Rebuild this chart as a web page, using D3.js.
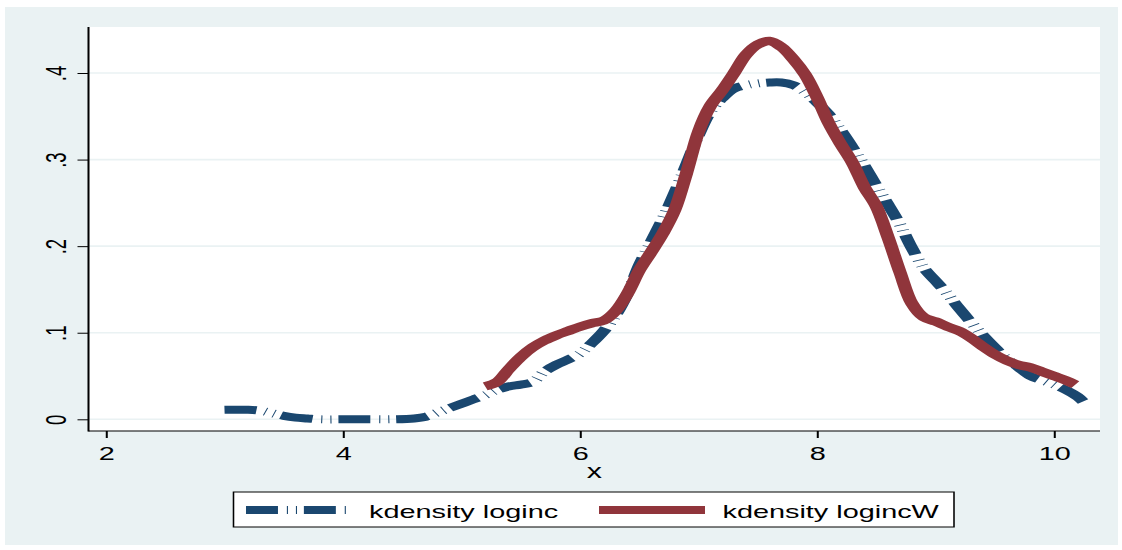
<!DOCTYPE html>
<html>
<head>
<meta charset="utf-8">
<script src="https://cdn.jsdelivr.net/npm/d3@7"></script>
<style>
  html, body { margin: 0; padding: 0; background: #ffffff; }
  svg { display: block; }
  text { font-family: "Liberation Sans", Arial, Helvetica, sans-serif; fill: #000; }
</style>
</head>
<body>
<svg id="chart" width="1122" height="550"></svg>
<script>
// Kernel density estimates of log income (unweighted vs. weighted)
const seriesNames = ["kdensity loginc", "kdensity logincW"];

const logincX = [3.0, 3.2, 3.3, 3.4, 3.5, 3.6, 3.7, 3.8, 4.0, 4.2, 4.4, 4.6, 4.7, 4.8, 4.9, 5.0,
  5.1, 5.2, 5.3, 5.4, 5.5, 5.6, 5.7, 5.8, 5.9, 6.0, 6.1, 6.2, 6.3, 6.4, 6.5, 6.6, 6.7, 6.8, 6.9,
  7.0, 7.1, 7.2, 7.3, 7.4, 7.5, 7.6, 7.7, 7.8, 7.9, 8.0, 8.1, 8.2, 8.3, 8.4, 8.5, 8.6, 8.7, 8.8,
  8.9, 9.0, 9.1, 9.2, 9.3, 9.4, 9.5, 9.6, 9.7, 9.8, 9.9, 10.0, 10.1, 10.2, 10.25];
const logincY = [0.011, 0.011, 0.010, 0.007, 0.004, 0.002, 0.001, 0.0, 0.0, 0.0, 0.0, 0.001, 0.003,
  0.008, 0.013, 0.018, 0.023, 0.028, 0.034, 0.038, 0.040, 0.043, 0.055, 0.063, 0.069, 0.076,
  0.088, 0.102, 0.120, 0.145, 0.178, 0.205, 0.232, 0.262, 0.295, 0.328, 0.355, 0.371, 0.382,
  0.386, 0.388, 0.389, 0.389, 0.386, 0.378, 0.366, 0.352, 0.334, 0.314, 0.293, 0.270, 0.248,
  0.225, 0.198, 0.175, 0.160, 0.145, 0.128, 0.112, 0.097, 0.083, 0.070, 0.060, 0.050, 0.045,
  0.040, 0.034, 0.026, 0.020];

const logincWX = [5.2, 5.3, 5.4, 5.5, 5.6, 5.7, 5.8, 5.9, 6.0, 6.1, 6.2, 6.3, 6.4, 6.5, 6.6, 6.7,
  6.8, 6.9, 7.0, 7.1, 7.2, 7.3, 7.4, 7.5, 7.6, 7.7, 7.8, 7.9, 8.0, 8.1, 8.2, 8.3, 8.4, 8.5, 8.6,
  8.7, 8.8, 8.9, 9.0, 9.1, 9.2, 9.3, 9.4, 9.5, 9.6, 9.7, 9.8, 9.9, 10.0, 10.1, 10.18];
const logincWY = [0.038, 0.043, 0.058, 0.072, 0.083, 0.091, 0.097, 0.102, 0.107, 0.111, 0.114,
  0.125, 0.145, 0.172, 0.193, 0.215, 0.242, 0.285, 0.332, 0.362, 0.380, 0.400, 0.421, 0.433,
  0.437, 0.430, 0.416, 0.398, 0.372, 0.342, 0.318, 0.296, 0.268, 0.246, 0.210, 0.170, 0.134,
  0.118, 0.113, 0.107, 0.102, 0.094, 0.084, 0.075, 0.068, 0.063, 0.060, 0.055, 0.050, 0.045, 0.040];

const xTicks = [2, 4, 6, 8, 10];
const xTickLabels = ["2", "4", "6", "8", "10"];
const yTicks = [0, 0.1, 0.2, 0.3, 0.4];
const yTickLabels = ["0", ".1", ".2", ".3", ".4"];
const xTitle = "x";

// The graph is laid out in a narrower frame and stretched horizontally.
const SX = 1.56;
const W = 1122 / SX, H = 550;

const BG = "#eaf2f3";
const NAVY = "#1a476f";
const MAROON = "#90353b";

const plot = { left: 88.5 / SX, right: 1100 / SX, top: 27, bottom: 431 };

const svg = d3.select("#chart");
const root = svg.append("g").attr("transform", `scale(${SX},1)`);

// outer graph region
root.append("rect").attr("x", 5 / SX).attr("y", 7)
  .attr("width", (1118 - 5) / SX).attr("height", 545 - 7).attr("fill", BG);

// plot region
root.append("rect").attr("x", plot.left).attr("y", plot.top)
  .attr("width", plot.right - plot.left).attr("height", plot.bottom - plot.top)
  .attr("fill", "#ffffff");

const x = d3.scaleLinear().domain([2, 10]).range([106 / SX, 1054 / SX]);
const y = d3.scaleLinear().domain([0, 0.4]).range([419.3, 73]);

// grid lines
root.append("g").selectAll("line").data(yTicks).join("line")
  .attr("x1", plot.left).attr("x2", plot.right)
  .attr("y1", d => y(d)).attr("y2", d => y(d))
  .attr("stroke", BG).attr("stroke-width", 1.6);

// y axis
const yAxis = d3.axisLeft(y).tickValues(yTicks).tickSize(11 / SX).tickPadding(0)
  .tickFormat((d, i) => yTickLabels[i]);
const gy = root.append("g").attr("transform", `translate(${plot.left},0)`).call(yAxis);
gy.select(".domain").remove();
gy.selectAll(".tick line").attr("stroke", "#000").attr("stroke-width", 1);
gy.selectAll(".tick text").remove();
gy.selectAll(".tick").append("text")
  .attr("transform", `translate(${-(88.5 - 66) / SX},0) rotate(-90)`)
  .attr("text-anchor", "middle")
  .attr("font-size", 18.5)
  .text((d, i) => yTickLabels[i]);
root.append("line").attr("x1", plot.left).attr("x2", plot.left)
  .attr("y1", plot.top).attr("y2", plot.bottom + 0.5)
  .attr("stroke", "#000").attr("stroke-width", 1.3);

// x axis
const xAxis = d3.axisBottom(x).tickValues(xTicks).tickSize(7).tickPadding(0)
  .tickFormat((d, i) => xTickLabels[i]);
const gx = root.append("g").attr("transform", `translate(0,${plot.bottom})`).call(xAxis);
gx.select(".domain").remove();
gx.selectAll(".tick line").attr("stroke", "#000").attr("stroke-width", 1.3);
gx.selectAll(".tick text").remove();
gx.selectAll(".tick").append("text")
  .attr("y", 460 - plot.bottom)
  .attr("text-anchor", "middle")
  .attr("font-size", 18.5)
  .text((d, i) => xTickLabels[i]);
root.append("line").attr("x1", plot.left).attr("x2", plot.right)
  .attr("y1", plot.bottom).attr("y2", plot.bottom)
  .attr("stroke", "#000").attr("stroke-width", 1);

root.append("text")
  .attr("x", (plot.left + plot.right) / 2).attr("y", 478)
  .attr("text-anchor", "middle").attr("font-size", 19.5)
  .text(xTitle);

// density curves
const line = d3.line().curve(d3.curveCatmullRom.alpha(0.5));
const logincPts = logincX.map((v, i) => [x(v), y(logincY[i])]);
const logincWPts = logincWX.map((v, i) => [x(v), y(logincWY[i])]);

const dashPattern = [20.5, 5.7, 0.7, 5.1, 0.7, 4.4].join(" ");

root.append("path").attr("d", line(logincPts))
  .attr("fill", "none").attr("stroke", NAVY).attr("stroke-width", 8)
  .attr("stroke-dasharray", dashPattern).attr("stroke-linejoin", "round");

root.append("path").attr("d", line(logincWPts))
  .attr("fill", "none").attr("stroke", MAROON).attr("stroke-width", 8.5)
  .attr("stroke-linejoin", "round");

// legend
const leg = root.append("g");
leg.append("rect").attr("x", 233.5 / SX).attr("y", 492)
  .attr("width", (954 - 233.5) / SX).attr("height", 35)
  .attr("fill", "#ffffff").attr("stroke", "#000").attr("stroke-width", 1);

const keyY = 510;
leg.append("line").attr("x1", 246 / SX).attr("x2", 351 / SX)
  .attr("y1", keyY).attr("y2", keyY)
  .attr("stroke", NAVY).attr("stroke-width", 8).attr("stroke-dasharray", dashPattern);
leg.append("text").attr("x", 369 / SX).attr("y", 518)
  .attr("font-size", 18.5).text(seriesNames[0]);

leg.append("line").attr("x1", 599 / SX).attr("x2", 705 / SX)
  .attr("y1", keyY).attr("y2", keyY)
  .attr("stroke", MAROON).attr("stroke-width", 8);
leg.append("text").attr("x", 722.5 / SX).attr("y", 518)
  .attr("font-size", 18.5).text(seriesNames[1]);
</script>
</body>
</html>
